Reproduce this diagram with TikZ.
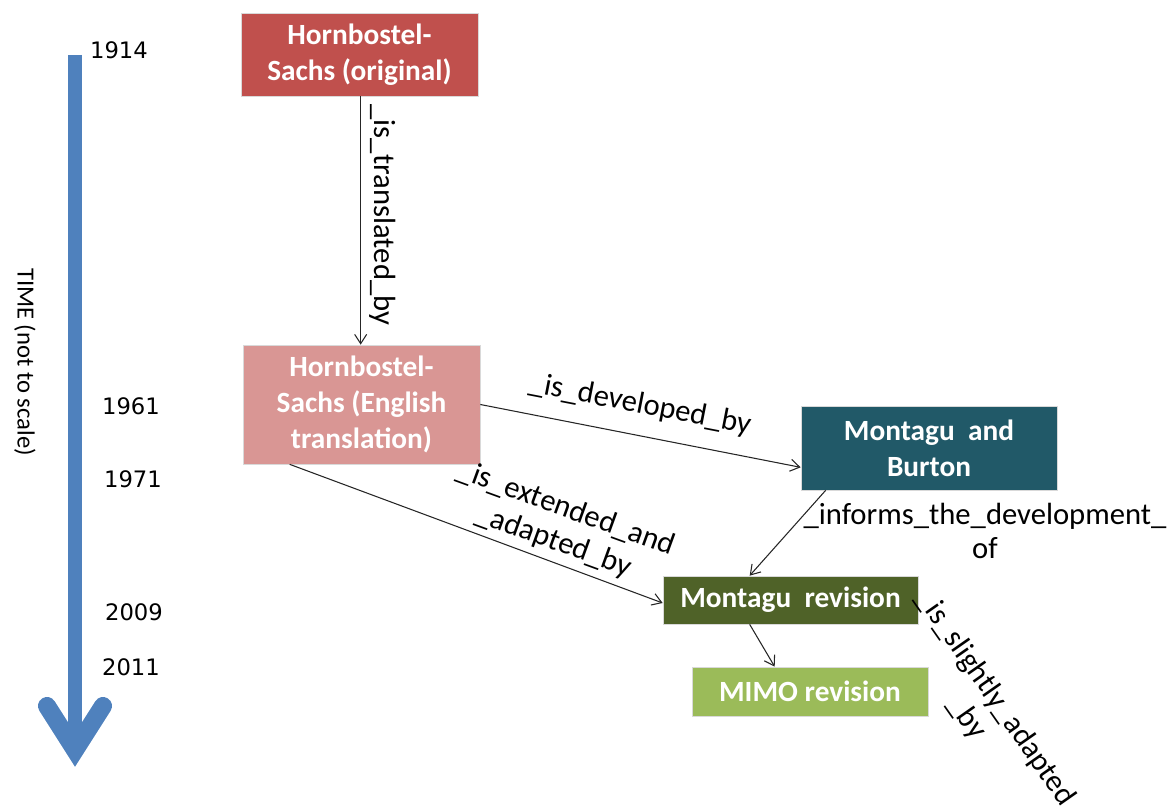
\documentclass[tikz,border=0pt]{standalone}
\usepackage{fontspec}
\setmainfont{Carlito}
\newfontfamily\yearfont{DejaVu Sans}
\usetikzlibrary{arrows.meta,calc}
\definecolor{cRed}{HTML}{C0504D}
\definecolor{cPink}{HTML}{D99694}
\definecolor{cTeal}{HTML}{215968}
\definecolor{cOlive}{HTML}{4F6228}
\definecolor{cGreen}{HTML}{9BBB59}
\definecolor{cBlue}{HTML}{4F81BD}
\definecolor{cLine}{HTML}{262626}
\tikzset{
  box/.style={draw=white!85!black, line width=0.5pt, text=white, font=\fontsize{22}{27}\selectfont\bfseries, align=center, inner sep=0pt},
  rel/.style={draw=cLine, line width=0.8pt, -{Straight Barb[length=7pt,width=9pt]}},
  lbl/.style={font=\fontsize{23}{26}\selectfont, align=center, inner sep=0pt},
  year/.style={font=\yearfont\fontsize{17}{20}\selectfont, inner sep=0pt}
}
\begin{document}
\begin{tikzpicture}[x=0.75pt,y=-0.75pt]
\useasboundingbox (0,0) rectangle (1172,812);
% timeline
\draw[cBlue, line width=10.5pt] (75,55) -- (75,740);
\draw[cBlue, line width=13.5pt, line cap=round, line join=miter] (47,706) -- (75,750) -- (103,706);
\node[font=\fontsize{18.5}{22}\selectfont, rotate=-90, inner sep=0pt] (time) at (25,362) {TIME (not to scale)};
\node[year] (y1914) at (119,50) {1914};
\node[year] (y1961) at (131,406) {1961};
\node[year] (y1971) at (133,479) {1971};
\node[year] (y2009) at (134,612) {2009};
\node[year] (y2011) at (131,667) {2011};
% boxes
\node[box, fill=cRed, minimum width=177.75pt, minimum height=62.25pt] (b1) at (359.5,54.5) {Hornbostel-\\Sachs (original)};
\node[box, fill=cPink, minimum width=177.75pt, minimum height=89.25pt] (b2) at (361.5,404.5) {Hornbostel-\\Sachs (English\\translation)};
\node[box, fill=cTeal, minimum width=192pt, minimum height=63pt] (b3) at (929,448) {Montagu\ \ and\\Burton};
\node[box, fill=cOlive, minimum width=191.25pt, minimum height=36pt] (b4) at (790.5,600) {Montagu\ \ revision};
\node[box, fill=cGreen, minimum width=177pt, minimum height=36.75pt] (b5) at (810,691.5) {MIMO revision};
% connectors
\draw[rel] ($(b1.south west)+(120,0)$) -- ($(b2.north west)+(118,0)$);
\draw[rel] (b2.east) -- ($(b3.south west)+(0,-23)$);
\draw[rel] ($(b2.south west)+(47,0)$) -- ($(b4.west)+(0,3)$);
\draw[rel] ($(b3.south west)+(25,0)$) -- ($(b4.north west)+(87,0)$);
\draw[rel] ($(b4.south west)+(87,0)$) -- ($(b5.north west)+(83,0)$);
% labels
\node[lbl, rotate=-90] (l1) at (383,215) {\_is\_translated\_by};
\node[lbl, rotate=-11] (l2) at (640,405) {\_is\_developed\_by};
\node[lbl, rotate=-20] (l3) at (560,525) {\_is\_extended\_and\\\_adapted\_by};
\node[lbl] (l4) at (985,531) {\_informs\_the\_development\_\\of};
\node[lbl, rotate=-55] (l5) at (981,708) {\_is\_slightly\_adapted\\\_by};
\end{tikzpicture}
\end{document}
